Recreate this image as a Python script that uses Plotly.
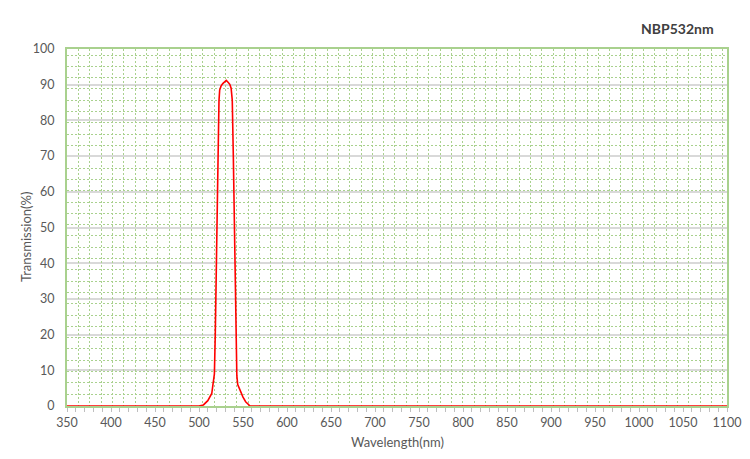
import plotly.graph_objects as go

# Data
wavelength = [350, 500, 505, 510, 514.5, 517.5, 518.5, 520, 521.5, 522.7, 523.5, 525, 527, 529, 531, 533,
              535, 536.5, 537.8, 539, 540, 541, 542, 543, 544, 546.5, 550, 553, 556, 558, 1100]
transmission = [0, 0, 0.3, 1.5, 3.5, 9, 20, 45, 68, 85.5, 88.5, 89.6, 90.3, 90.8, 91.2, 90.7,
                90.1, 89.0, 85.7, 70, 52, 33, 16, 8.5, 6, 4.5, 2.5, 1.2, 0.5, 0, 0]
x_ticks = list(range(350, 1101, 50))
y_ticks = list(range(0, 101, 10))
title_text = "NBP532nm"
x_title = "Wavelength(nm)"
y_title = "Transmission(%)"

FONT = "Lato"
TXT = "#595959"
GREEN = "#a9d18e"
DOT_GREEN = "#a9d18e"

W, H = 750, 459
ML, MR, MT, MB = 67, 23, 49, 53
pw, ph = W - ML - MR, H - MT - MB


def px_x(px):
    return (px - ML) / pw


def px_y(py):
    return (H - MB - py) / ph


fig = go.Figure()
fig.add_trace(go.Scatter(x=wavelength, y=transmission, mode="lines",
                         line=dict(color="#ff0000", width=1.6), cliponaxis=False,
                         showlegend=False, hoverinfo="skip"))
# invisible trace on the secondary x-axis for the dotted vertical grid
fig.add_trace(go.Scatter(x=[x_ticks[0], x_ticks[-1]], y=[0, 0], xaxis="x2", mode="lines",
                         line=dict(width=0), showlegend=False, hoverinfo="skip"))

fig.update_layout(
    width=W, height=H,
    margin=dict(l=ML, r=MR, t=MT, b=MB, autoexpand=False),
    paper_bgcolor="white", plot_bgcolor="white",
    font=dict(family=FONT, size=12.5, color=TXT),
    xaxis=dict(range=[350, 1100], tickmode="array", tickvals=x_ticks,
               ticktext=[str(v) for v in x_ticks],
               showgrid=False, zeroline=False,
               showline=True, mirror=True, linecolor=GREEN, linewidth=2,
               ticks="outside", ticklen=4, tickcolor="#bfbfbf", tickwidth=1,
               minor=dict(dtick=10, tick0=350, ticks="outside", ticklen=4, tickcolor="#bfbfbf",
                          showgrid=False),
               tickfont=dict(family=FONT, size=12.5, color=TXT)),
    xaxis2=dict(range=[350, 1100], overlaying="x", side="bottom", showticklabels=False,
                ticks="", tick0=363.2, dtick=12.84, showgrid=True,
                gridcolor=DOT_GREEN, griddash="2px,2px", gridwidth=1, zeroline=False,
                showline=False, layer="below traces"),
    yaxis=dict(range=[0, 100], tickmode="array", tickvals=y_ticks,
               showgrid=True, gridcolor="#d9d9d9", gridwidth=2, zeroline=False,
               showline=True, mirror=True, linecolor=GREEN, linewidth=2,
               ticks="", ticklabelstandoff=8,
               minor=dict(tick0=98.3, dtick=3.166, showgrid=True, gridcolor=DOT_GREEN,
                          griddash="2px,2px", gridwidth=1, ticks=""),
               tickfont=dict(family=FONT, size=12.5, color=TXT)),
    annotations=[
        dict(text="<b>" + title_text + "</b>", x=px_x(677.5), y=px_y(29), xref="paper", yref="paper",
             showarrow=False, font=dict(family=FONT, size=14, color="#404040"),
             xanchor="center", yanchor="middle"),
        dict(text=x_title, x=px_x(397), y=px_y(442), xref="paper", yref="paper", showarrow=False,
             font=dict(family=FONT, size=13, color=TXT), xanchor="center", yanchor="middle"),
        dict(text=y_title, x=px_x(26), y=px_y(237), xref="paper", yref="paper", showarrow=False,
             textangle=-90, font=dict(family=FONT, size=13, color=TXT),
             xanchor="center", yanchor="middle"),
    ],
)

fig.write_html("out.html", config={"displayModeBar": False},
               post_script="document.body.style.margin='0';document.body.style.padding='0';")
